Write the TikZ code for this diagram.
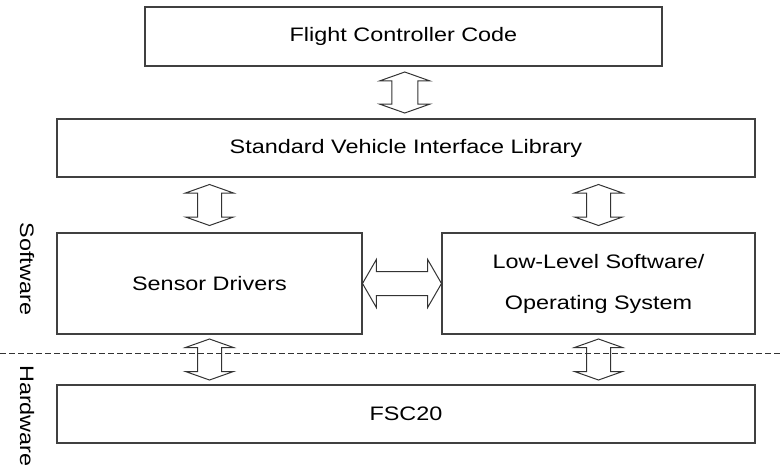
\documentclass[tikz,border=0pt]{standalone}
\usepackage{fontspec}
\setmainfont{Liberation Sans}[FakeStretch=1.2]
\usetikzlibrary{shapes.arrows, calc}

\begin{document}
\begin{tikzpicture}[x=1pt, y=-1pt,
  every node/.style={font=\fontsize{19.5}{40}\selectfont, text=black},
  block/.style={draw=black!75, line width=1.3pt, inner sep=0pt},
  updown/.style={double arrow, draw=black!80, line width=1pt, inner sep=0pt,
    rotate=90, minimum height=41pt,
    double arrow head extend=12pt, double arrow tip angle=141},
  leftright/.style={double arrow, draw=black!80, line width=1pt, inner sep=0pt,
    double arrow head extend=12pt, double arrow tip angle=120}]

\useasboundingbox (0,0) rectangle (780,467);

\node[block, minimum width=517pt, minimum height=59pt] (fcc) at (403.5,36.5) {Flight Controller Code};
\node[block, minimum width=698pt, minimum height=58pt] (svil) at (406,148) {Standard Vehicle Interface Library};
\node[block, minimum width=305pt, minimum height=101pt] (sensor) at (209.5,283.5) {Sensor Drivers};
\node[block, minimum width=313pt, minimum height=101pt, align=center] (lls) at (598.5,283.5) {Low-Level Software/\\[1pt]Operating System};
\node[block, minimum width=698pt, minimum height=58pt] (fsc) at (406,414) {FSC20};

% software / hardware split
\coordinate (dl) at (0,353);
\coordinate (dr) at (780,353);
\draw[black!80, line width=0.8pt, dash pattern=on 6pt off 3pt] (dl) -- (dr);
\node[rotate=-90] (sw) at (27,269) {Software};
\node[rotate=-90] (hw) at (27,416) {Hardware};

% hollow double arrows
\node[updown] (a1) at ($(fcc.south)!.5!(svil.north)$) {\rule{0pt}{25pt}};
\node[updown] (a2) at ($(svil.south -| sensor.north)!.5!(sensor.north)$) {\rule{0pt}{23pt}};
\node[updown] (a3) at ($(svil.south -| lls.north)!.5!(lls.north)$) {\rule{0pt}{23pt}};
\node[updown] (a4) at ($(sensor.south)!.5!(fsc.north -| sensor.south)$) {\rule{0pt}{23pt}};
\node[updown] (a5) at ($(lls.south)!.5!(fsc.north -| lls.south)$) {\rule{0pt}{23pt}};
\node[leftright, minimum height=79pt] (a6) at ($(sensor.east)!.5!(lls.west)$) {\rule{0pt}{23pt}};

\end{tikzpicture}
\end{document}
